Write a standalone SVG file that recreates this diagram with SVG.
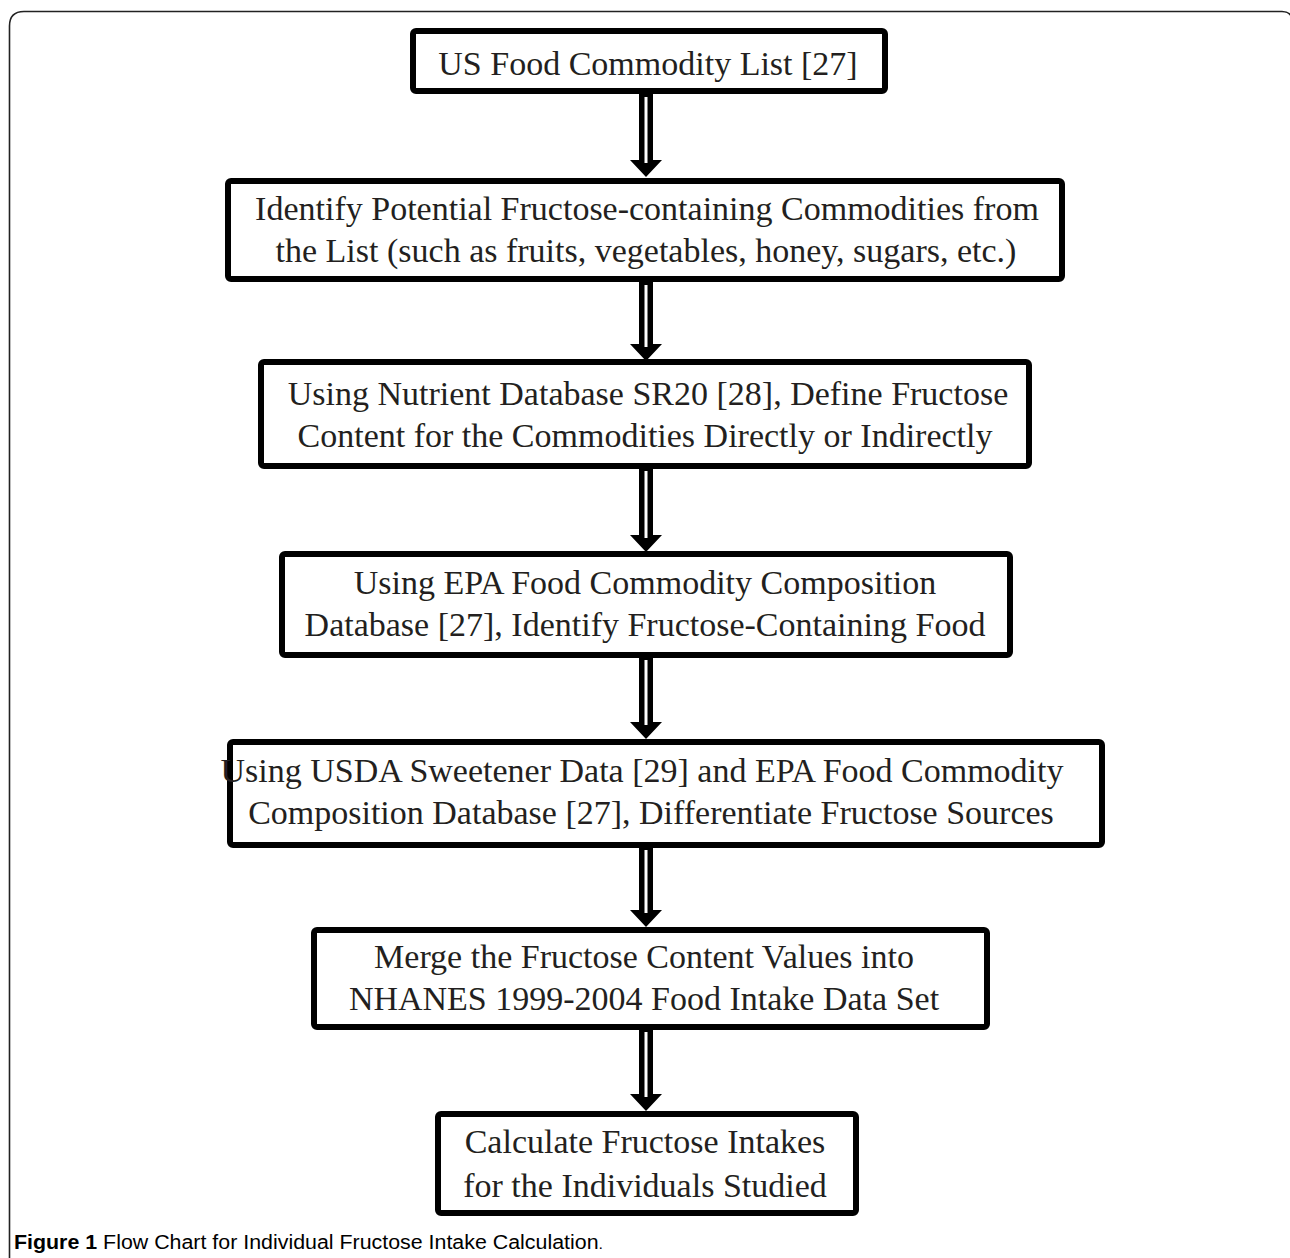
<svg xmlns="http://www.w3.org/2000/svg" width="1290" height="1258" viewBox="0 0 1290 1258">
<style>
.box{fill:#fff;stroke:#000;stroke-width:6;}
.t{font-family:"Liberation Serif","Times New Roman",serif;font-size:34px;fill:#231f20;text-anchor:middle;}
.cap{font-family:"Liberation Sans",Arial,sans-serif;font-size:20px;fill:#000;}
.frame{fill:none;stroke:#222;stroke-width:1.6;}
</style>
<rect width="1290" height="1258" fill="#fff"/>
<path class="frame" d="M9.5,1258 V26 Q9.5,11.5 24,11.5 H1282 Q1290,11.5 1292,18"/>
<g id="connectors">
<g id="a1"><polygon points="639,94 653,94 653,160 662,160 646,177 630,160 639,160" fill="#000"/><rect x="644.5" y="97" width="3" height="66" fill="#fff"/></g>
<g id="a2"><polygon points="639,282 653,282 653,344 662,344 646,361 630,344 639,344" fill="#000"/><rect x="644.5" y="285" width="3" height="62" fill="#fff"/></g>
<g id="a3"><polygon points="639,468 653,468 653,535 662,535 646,552 630,535 639,535" fill="#000"/><rect x="644.5" y="471" width="3" height="67" fill="#fff"/></g>
<g id="a4"><polygon points="639,657 653,657 653,722 662,722 646,739 630,722 639,722" fill="#000"/><rect x="644.5" y="660" width="3" height="65" fill="#fff"/></g>
<g id="a5"><polygon points="639,847 653,847 653,910 662,910 646,927 630,910 639,910" fill="#000"/><rect x="644.5" y="850" width="3" height="63" fill="#fff"/></g>
<g id="a6"><polygon points="639,1029 653,1029 653,1094 662,1094 646,1111 630,1094 639,1094" fill="#000"/><rect x="644.5" y="1032" width="3" height="65" fill="#fff"/></g>
</g>
<g id="n1"><rect class="box" x="413" y="31" width="472" height="60" rx="3"/>
<text class="t" x="648" y="75">US Food Commodity List [27]</text></g>
<g id="n2"><rect class="box" x="228" y="181" width="834" height="98" rx="3"/>
<text class="t" x="647" y="220">Identify Potential Fructose-containing Commodities from</text>
<text class="t" x="646" y="262">the List (such as fruits, vegetables, honey, sugars, etc.)</text></g>
<g id="n3"><rect class="box" x="261" y="362" width="768" height="104" rx="3"/>
<text class="t" x="648" y="405">Using Nutrient Database SR20 [28], Define Fructose</text>
<text class="t" x="645" y="447">Content for the Commodities Directly or Indirectly</text></g>
<g id="n4"><rect class="box" x="282" y="554" width="728" height="101" rx="3"/>
<text class="t" x="645" y="594">Using EPA Food Commodity Composition</text>
<text class="t" x="645" y="636">Database [27], Identify Fructose-Containing Food</text></g>
<g id="n5"><rect class="box" x="230" y="742" width="872" height="103" rx="3"/>
<text class="t" x="642" y="782">Using USDA Sweetener Data [29] and EPA Food Commodity</text>
<text class="t" x="651" y="824">Composition Database [27], Differentiate Fructose Sources</text></g>
<g id="n6"><rect class="box" x="314" y="930" width="673" height="97" rx="3"/>
<text class="t" x="644" y="968">Merge the Fructose Content Values into</text>
<text class="t" x="644" y="1010">NHANES 1999-2004 Food Intake Data Set</text></g>
<g id="n7"><rect class="box" x="438" y="1114" width="418" height="99" rx="3"/>
<text class="t" x="645" y="1153">Calculate Fructose Intakes</text>
<text class="t" x="645" y="1197">for the Individuals Studied</text></g>
<text class="cap" x="14" y="1249" textLength="589" lengthAdjust="spacingAndGlyphs"><tspan font-weight="bold">Figure 1</tspan> Flow Chart for Individual Fructose Intake Calculation<tspan font-size="15">.</tspan></text>
</svg>
